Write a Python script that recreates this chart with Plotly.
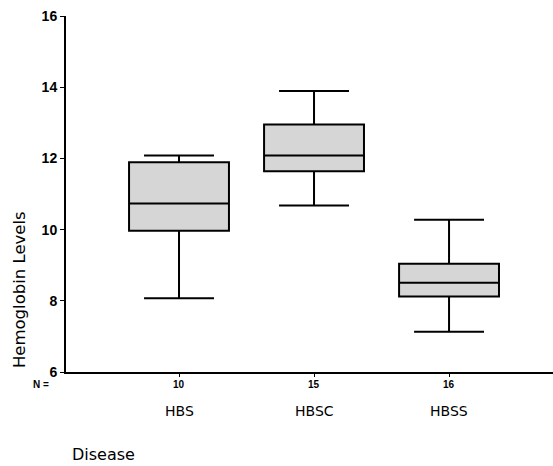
import plotly.graph_objects as go

# ---- data ----
categories = ["HBS", "HBSC", "HBSS"]
counts = [10, 15, 16]
lower_whisker = [8.07, 10.68, 7.13]
q1 = [9.97, 11.64, 8.12]
median = [10.73, 12.08, 8.51]
q3 = [11.89, 12.95, 9.04]
upper_whisker = [12.08, 13.89, 10.28]
y_ticks = [6, 8, 10, 12, 14, 16]

xpos = list(range(len(categories)))

fig = go.Figure()
fig.add_trace(go.Box(
    x=xpos,
    q1=q1, median=median, q3=q3,
    lowerfence=lower_whisker, upperfence=upper_whisker,
    fillcolor="#d6d6d6",
    line=dict(color="black", width=2),
    width=0.74,
    whiskerwidth=0.7,
    boxpoints=False,
    hoverinfo="skip",
    showlegend=False,
))

fig.update_layout(
    width=553, height=466,
    margin=dict(l=66, r=0, t=16, b=94),
    paper_bgcolor="white", plot_bgcolor="white",
    font=dict(family="DejaVu Sans", color="black"),
    xaxis=dict(
        range=[-0.837, 2.77],
        tickvals=xpos, ticktext=["" for _ in xpos],
        ticks="outside", ticklen=3, tickcolor="black",
        showline=True, linecolor="black", linewidth=2,
        showgrid=False, zeroline=False,
    ),
    yaxis=dict(
        range=[6, 16],
        tickvals=y_ticks, ticktext=[f"<b>{v}</b>" for v in y_ticks],
        tickfont=dict(family="Liberation Sans", size=14),
        ticks="outside", ticklen=4, tickcolor="black",
        showline=True, linecolor="black", linewidth=2,
        showgrid=False, zeroline=False,
    ),
)

annotations = []
annotations.append(dict(
    x=-0.052, y=-0.034, xref="paper", yref="paper",
    text="<b>N =</b>", showarrow=False, xanchor="center", yanchor="middle",
    font=dict(family="Liberation Sans", size=10),
))
for xi, n, cat in zip(xpos, counts, categories):
    annotations.append(dict(
        x=xi, y=-0.034, xref="x", yref="paper",
        text=f"<b>{n}</b>", showarrow=False, xanchor="center", yanchor="middle",
        font=dict(family="Liberation Sans", size=10),
    ))
    annotations.append(dict(
        x=xi, y=-0.11, xref="x", yref="paper",
        text=cat, showarrow=False, xanchor="center", yanchor="middle",
        font=dict(family="DejaVu Sans", size=14),
    ))
annotations.append(dict(
    x=0.008, y=-0.233, xref="paper", yref="paper",
    text="Disease", showarrow=False, xanchor="left", yanchor="middle",
    font=dict(family="DejaVu Sans", size=16),
))
annotations.append(dict(
    x=-0.0965, y=0.23, xref="paper", yref="paper",
    text="Hemoglobin Levels", showarrow=False, textangle=-90,
    xanchor="center", yanchor="middle",
    font=dict(family="DejaVu Sans", size=16.5),
))
fig.update_layout(annotations=annotations)

fig.write_html("out.html")
